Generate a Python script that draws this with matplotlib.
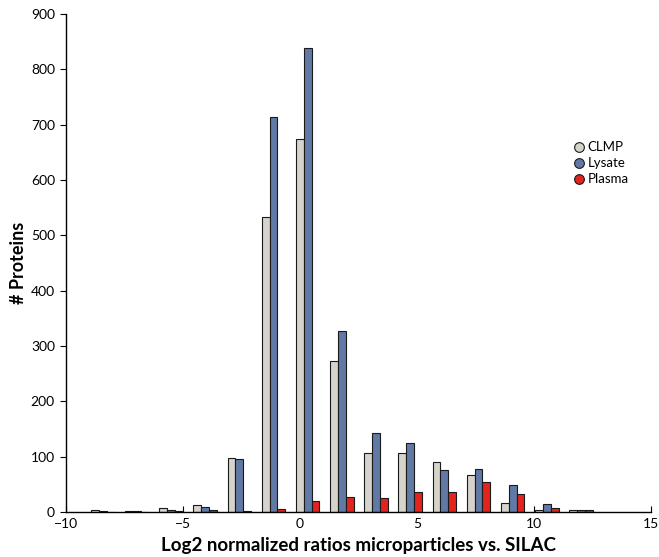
import matplotlib
matplotlib.use("Agg")
import matplotlib.pyplot as plt
from matplotlib.lines import Line2D
import numpy as np

plt.rcParams['font.family'] = ['Lato', 'DejaVu Sans']

# Bin centres (log2 ratio) and counts per series
bin_centers = [-8.43, -6.97, -5.51, -4.05, -2.59, -1.13, 0.33, 1.79, 3.25,
               4.71, 6.17, 7.63, 9.09, 10.55, 12.01]
clmp   = [4, 2, 7, 13, 98, 534, 675, 272, 106, 106, 90, 67, 17, 4, 3]
lysate = [1, 1, 4, 9, 95, 713, 838, 328, 143, 124, 76, 78, 49, 15, 3]
plasma = [0, 0, 1, 3, 1, 6, 19, 28, 26, 37, 37, 55, 33, 7, 3]

series_names = ["CLMP", "Lysate", "Plasma"]
colors = ["#D6D2CC", "#6179A5", "#E3231E"]

x_ticks = [-10, -5, 0, 5, 10, 15]
y_ticks = [0, 100, 200, 300, 400, 500, 600, 700, 800, 900]

fig = plt.figure(figsize=(6.59, 5.57), dpi=100)
ax = fig.add_axes([66/659, 1-512/557, 585/659, 498/557])

w = 0.335
centers = np.array(bin_centers)
for i, (vals, col) in enumerate(zip([clmp, lysate, plasma], colors)):
    ax.bar(centers + (i - 1) * w, vals, width=w, color=col,
           edgecolor="#1a1a1a", linewidth=0.8, zorder=2)

ax.set_xlim(-10, 15)
ax.set_ylim(0, 900)
ax.set_xticks(x_ticks)
ax.set_xticklabels([("\u2212" + str(abs(t))) if t < 0 else str(t) for t in x_ticks])
ax.set_yticks(y_ticks)
for s in ["top", "right"]:
    ax.spines[s].set_visible(False)
for s in ["left", "bottom"]:
    ax.spines[s].set_linewidth(1.0)
ax.tick_params(axis="y", direction="out", length=4, labelsize=10, pad=4)
ax.tick_params(axis="x", direction="in", length=4, labelsize=10, pad=4)

ax.set_xlabel("Log2 normalized ratios microparticles vs. SILAC",
              fontsize=13.5, fontweight="bold", labelpad=5.5)
ax.set_ylabel("# Proteins", fontsize=13, fontweight="bold", labelpad=3)

handles = [Line2D([], [], marker="o", linestyle="none", markersize=7,
                  markerfacecolor=c, markeredgecolor="#1a1a1a",
                  markeredgewidth=0.8) for c in colors]
ax.legend(handles, series_names, loc="upper left",
          bbox_to_anchor=(0.856, 0.755), frameon=False, fontsize=9.5,
          handletextpad=0.2, labelspacing=0.3, handlelength=1.0,
          borderaxespad=0)

fig.savefig("out.png", dpi=100)
